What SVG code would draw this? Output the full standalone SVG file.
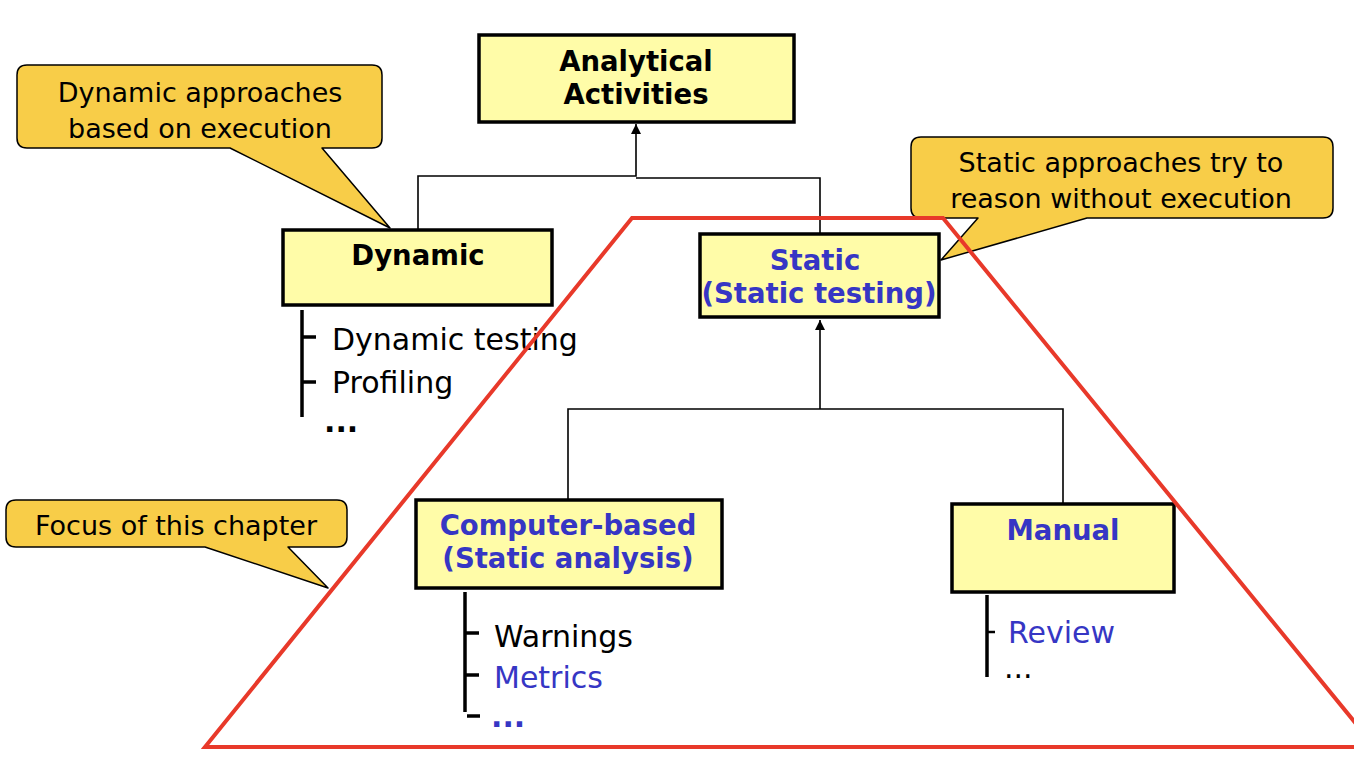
<svg xmlns="http://www.w3.org/2000/svg" width="1354" height="760" viewBox="0 0 1354 760">
<defs>
<style>
.box{fill:#FFFCA8;stroke:#000;stroke-width:3.5}
.call{fill:#F8CD48;stroke:#000;stroke-width:1.5;stroke-linejoin:round}
.bt{font-family:"DejaVu Sans",Verdana,sans-serif;font-weight:bold;font-size:27.5px;text-anchor:middle}
.ct{font-family:"DejaVu Sans",Verdana,sans-serif;font-size:27px;text-anchor:middle;fill:#000}
.lt{font-family:"DejaVu Sans",Verdana,sans-serif;font-size:30px}
.blue{fill:#3636C4}
.blk{fill:#000}
.conn{fill:none;stroke:#000;stroke-width:1.6}
.bar{stroke:#000;stroke-width:3.5;fill:none}
</style>
<marker id="arr" viewBox="0 0 10 10" refX="10" refY="5" markerWidth="10" markerHeight="10" markerUnits="userSpaceOnUse" orient="auto">
<path d="M0,0 L10,5 L0,10 z" fill="#000"/>
</marker>
</defs>
<rect width="1354" height="760" fill="#fff"/>

<g id="connectors">
<polyline class="conn" points="418,229 418,176 636,176 636,124" marker-end="url(#arr)"/>
<polyline class="conn" points="820,233 820,178 636,178"/>
<polyline class="conn" points="820,409 820,320" marker-end="url(#arr)"/>
<polyline class="conn" points="568,500 568,409 1063,409 1063,503"/>
</g>

<g id="analytical">
<rect class="box" x="479" y="35" width="315" height="87"/>
<text class="bt blk" x="636" y="71">Analytical</text>
<text class="bt blk" x="636" y="104">Activities</text>
</g>

<g id="dynamic">
<rect class="box" x="283" y="230" width="269" height="75"/>
<text class="bt blk" x="418" y="265">Dynamic</text>
</g>

<g id="dynamic-list">
<line class="bar" x1="302" y1="310" x2="302" y2="417"/>
<line class="bar" x1="302" y1="337" x2="316" y2="337"/>
<line class="bar" x1="302" y1="382" x2="316" y2="382"/>
<text class="lt blk" x="332" y="350">Dynamic testing</text>
<text class="lt blk" x="332" y="393">Profiling</text>
<text class="lt blk" x="324" y="432" font-weight="bold">...</text>
</g>

<g id="static">
<rect class="box" x="700" y="234" width="239" height="83"/>
<text class="bt blue" x="815" y="270">Static</text>
<text class="bt blue" x="819" y="303">(Static testing)</text>
</g>

<g id="computer-based">
<rect class="box" x="416" y="500" width="306" height="88"/>
<text class="bt blue" x="568" y="535">Computer-based</text>
<text class="bt blue" x="568" y="568">(Static analysis)</text>
</g>

<g id="computer-list">
<line class="bar" x1="465" y1="592" x2="465" y2="712"/>
<line class="bar" x1="465" y1="633" x2="479" y2="633"/>
<line class="bar" x1="465" y1="675" x2="479" y2="675"/>
<line class="bar" x1="467" y1="716" x2="480" y2="716"/>
<text class="lt blk" x="494" y="647">Warnings</text>
<text class="lt blue" x="494" y="688">Metrics</text>
<text class="lt blue" x="491" y="727" font-weight="bold">...</text>
</g>

<g id="manual">
<rect class="box" x="952" y="504" width="222" height="88"/>
<text class="bt blue" x="1063" y="540">Manual</text>
</g>

<g id="manual-list">
<line class="bar" x1="987" y1="595" x2="987" y2="677"/>
<line x1="987" y1="632" x2="995" y2="632" stroke="#000" stroke-width="2.5"/>
<text class="lt blue" x="1008" y="643">Review</text>
<text class="lt blk" x="1004" y="678">...</text>
</g>

<g id="callout-dynamic">
<path class="call" d="M27,65 H372 Q382,65 382,75 V138 Q382,148 372,148 H322 L390,228 L230,148 H27 Q17,148 17,138 V75 Q17,65 27,65 Z"/>
<text class="ct" x="200" y="102">Dynamic approaches</text>
<text class="ct" x="200" y="138">based on execution</text>
</g>

<g id="callout-static">
<path class="call" d="M921,137 H1323 Q1333,137 1333,147 V208 Q1333,218 1323,218 H1087 L941,260 L978,218 H921 Q911,218 911,208 V147 Q911,137 921,137 Z"/>
<text class="ct" x="1121" y="172">Static approaches try to</text>
<text class="ct" x="1121" y="208">reason without execution</text>
</g>

<g id="callout-focus">
<path class="call" d="M16,500 H337 Q347,500 347,510 V537 Q347,547 337,547 H288 L328,588 L205,547 H16 Q6,547 6,537 V510 Q6,500 16,500 Z"/>
<text class="ct" x="176" y="535">Focus of this chapter</text>
</g>

<g id="focus-area">
<polygon points="632,218 943,218 1375,747 205,747" fill="none" stroke="#E8392A" stroke-width="4" stroke-linejoin="miter"/>
</g>
</svg>
